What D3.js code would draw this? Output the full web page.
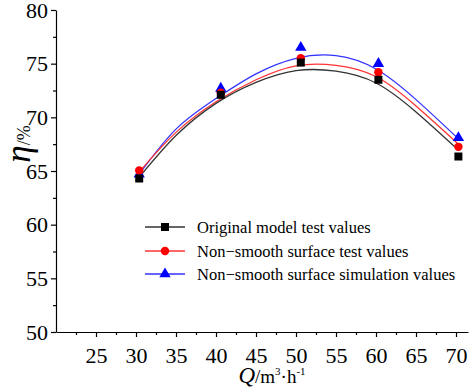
<!DOCTYPE html>
<html><head><meta charset="utf-8">
<script src="https://cdn.jsdelivr.net/npm/d3@7"></script>
<style>body{margin:0;background:#fff;}svg{display:block;} text{font-family:"Liberation Serif","DejaVu Serif",serif;}</style>
</head><body>
<script>
// ---- data ----
const flowPoints = [30.4, 40.6, 50.6, 60.3, 70.3];
const originalTest = [64.3, 72.1, 75.1, 73.5, 66.35];
const nonSmoothTest = [65.05, 72.3, 75.5, 74.2, 67.25];
const nonSmoothSim = [64.7, 72.7, 76.5, 75.0, 68.1];

const curveX = [30.5, 35, 40, 45, 50, 55, 60, 65, 70.3];
const originalCurve = [64.5, 68.3, 71.3, 73.25, 74.35, 74.3, 73.2, 70.5, 66.95];
const nonSmoothTestCurve = [65.0, 68.6, 71.45, 73.5, 74.8, 74.85, 73.8, 71.05, 67.5];
const nonSmoothSimCurve = [64.8, 68.9, 71.75, 74.05, 75.5, 75.75, 74.5, 71.65, 68.0];

const xTicks = [25, 30, 35, 40, 45, 50, 55, 60, 65, 70];
const xMinor = [22.5, 27.5, 32.5, 37.5, 42.5, 47.5, 52.5, 57.5, 62.5, 67.5];
const yTicks = [50, 55, 60, 65, 70, 75, 80];
const yMinor = [52.5, 57.5, 62.5, 67.5, 72.5, 77.5];

const seriesNames = ["Original model test values", "Non\u2212smooth surface test values", "Non\u2212smooth surface simulation values"];
const seriesColors = ["#000000", "#ff0000", "#0000ff"];
const curveColors = ["#333333", "#ff3333", "#3333ff"];

// ---- chart ----
const W = 474, H = 392;
const svg = d3.select("body").append("svg").attr("width", W).attr("height", H);
const x = d3.scaleLinear().domain([20, 71.5]).range([56, 468]);
const y = d3.scaleLinear().domain([50, 80]).range([332, 10]);
const font = "Liberation Serif, DejaVu Serif, serif";

// axes
const xAxis = svg.append("g").attr("transform", `translate(0,${y(50)})`)
  .call(d3.axisBottom(x).tickValues(xTicks).tickSize(5).tickSizeOuter(0).tickPadding(10));
xAxis.attr("font-family", null);
xAxis.selectAll("text").style("font-family", font).style("font-size", "22px").attr("fill", "#000");
const xMin = svg.append("g").attr("transform", `translate(0,${y(50)})`)
  .call(d3.axisBottom(x).tickValues(xMinor).tickSize(3).tickSizeOuter(0).tickFormat(""));
xMin.select(".domain").remove();

const yAxis = svg.append("g").attr("transform", `translate(${x(20)},0)`)
  .call(d3.axisLeft(y).tickValues(yTicks).tickSize(5).tickSizeOuter(0).tickPadding(3));
yAxis.attr("font-family", null);
yAxis.selectAll("text").style("font-family", font).style("font-size", "22px").attr("fill", "#000");
const yMin = svg.append("g").attr("transform", `translate(${x(20)},0)`)
  .call(d3.axisLeft(y).tickValues(yMinor).tickSize(3).tickSizeOuter(0).tickFormat(""));
yMin.select(".domain").remove();
svg.selectAll(".domain, .tick line").attr("stroke", "#000").attr("stroke-width", 1.2);

// curves
const curves = [originalCurve, nonSmoothTestCurve, nonSmoothSimCurve];
const line = d3.line().x(d => x(d[0])).y(d => y(d[1])).curve(d3.curveNatural);
[2, 1, 0].forEach(i => {
  svg.append("path").datum(curveX.map((v, k) => [v, curves[i][k]]))
    .attr("d", line).attr("fill", "none").attr("stroke", curveColors[i]).attr("stroke-width", 1.3);
});

// markers
const square = d3.symbol().type(d3.symbolSquare).size(64);
const circle = d3.symbol().type(d3.symbolCircle).size(56);
const tri = d3.symbol().type(d3.symbolTriangle).size(56);
const symbols = [square, circle, tri];
const pointSets = [originalTest, nonSmoothTest, nonSmoothSim];
[2, 1, 0].forEach(i => {
  svg.append("g").selectAll("path").data(flowPoints.map((v, k) => [v, pointSets[i][k]]))
    .join("path").attr("d", symbols[i])
    .attr("transform", d => `translate(${x(d[0])},${y(d[1])})`)
    .attr("fill", seriesColors[i]);
});

// legend
const legendY = [227, 251, 274];
seriesNames.forEach((name, i) => {
  const g = svg.append("g").attr("transform", `translate(145,${legendY[i]})`);
  g.append("line").attr("x1", 0).attr("x2", 40).attr("stroke", curveColors[i]).attr("stroke-width", 1.3);
  g.append("path").attr("d", symbols[i]).attr("transform", "translate(20,0)").attr("fill", seriesColors[i]);
  g.append("text").attr("x", 52).attr("y", 0).attr("dy", "0.35em")
    .style("font-family", font).style("font-size", "16.5px").attr("fill", "#000").text(name);
});

// axis titles
const yt = svg.append("text").attr("transform", "translate(30,144) rotate(-90)")
  .attr("text-anchor", "middle").style("font-family", font).attr("fill", "#000");
yt.append("tspan").style("font-style", "italic").style("font-size", "35px").text("\u03b7");
yt.append("tspan").style("font-size", "18px").text("/%");

const xt = svg.append("text").attr("x", 272).attr("y", 383)
  .attr("text-anchor", "middle").style("font-family", font).attr("fill", "#000");
xt.append("tspan").style("font-style", "italic").style("font-size", "23px").text("Q");
xt.append("tspan").style("font-size", "19px").text("/m");
xt.append("tspan").style("font-size", "11px").attr("dy", -8).text("3");
xt.append("tspan").style("font-size", "19px").attr("dy", 8).text("\u00b7h");
xt.append("tspan").style("font-size", "11px").attr("dy", -8).text("-1");
</script>
</body></html>
